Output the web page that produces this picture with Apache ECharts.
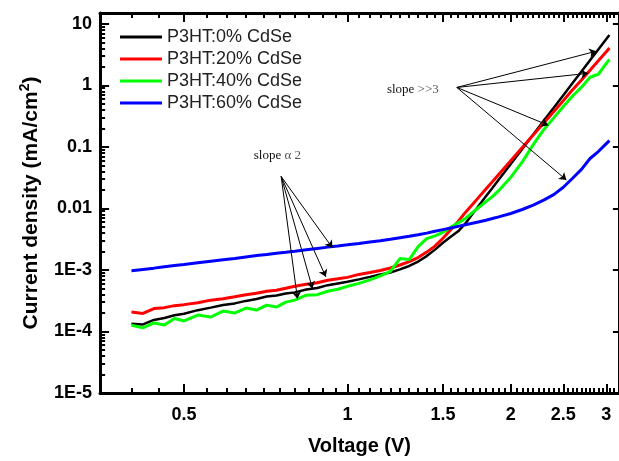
<!DOCTYPE html>
<html><head><meta charset="utf-8">
<script src="https://cdn.jsdelivr.net/npm/echarts@6/dist/echarts.min.js"></script>
<style>html,body{margin:0;padding:0;background:#fff}#c{width:619px;height:461px}</style>
</head><body><div id="c"></div>
<script>
// ---------- data ----------
const seriesNames = ['P3HT:0% CdSe', 'P3HT:20% CdSe', 'P3HT:40% CdSe', 'P3HT:60% CdSe'];
const seriesColors = ['#000000', '#ff0000', '#00ff00', '#0000ff'];

const voltage = [0.40,0.42,0.44,0.46,0.48,0.50,0.53,0.56,0.59,0.62,0.65,0.68,0.71,0.74,0.77,0.80,0.84,0.88,0.92,0.96,
  1.00,1.05,1.10,1.15,1.20,1.25,1.30,1.35,1.40,1.45,1.50,1.55,1.60,1.65,1.70,1.75,1.80,1.85,1.90,
  2.00,2.10,2.20,2.30,2.40,2.50,2.60,2.70,2.80,2.90,3.00,3.04];

const j0 = [1.34e-4,1.30e-4,1.54e-4,1.66e-4,1.84e-4,1.94e-4,2.22e-4,2.44e-4,2.70e-4,2.86e-4,3.14e-4,3.38e-4,3.70e-4,3.85e-4,4.15e-4,4.32e-4,4.80e-4,5.10e-4,5.66e-4,6.03e-4,
  6.41e-4,7.03e-4,7.72e-4,8.46e-4,9.11e-4,1.02e-3,1.16e-3,1.37e-3,1.68e-3,2.14e-3,2.77e-3,3.46e-3,4.25e-3,5.71e-3,8.09e-3,0.01134,0.01573,0.02146,0.0293,
  0.0528,0.0925,0.1583,0.265,0.431,0.693,1.089,1.681,2.556,3.827,5.65,6.60];

const j20 = [2.07e-4,1.96e-4,2.36e-4,2.44e-4,2.63e-4,2.73e-4,2.94e-4,3.23e-4,3.41e-4,3.67e-4,3.96e-4,4.18e-4,4.51e-4,4.68e-4,5.04e-4,5.42e-4,5.84e-4,6.18e-4,6.78e-4,7.17e-4,
  7.57e-4,8.46e-4,9.11e-4,9.81e-4,1.077e-3,1.204e-3,1.37e-3,1.59e-3,1.95e-3,2.44e-3,3.28e-3,4.49e-3,6.15e-3,8.62e-3,0.0116,0.01555,0.0207,0.0272,0.0357,
  0.0597,0.0974,0.1554,0.244,0.373,0.565,0.849,1.222,1.764,2.508,3.528,4.046];

const j40 = [1.263e-4,1.143e-4,1.375e-4,1.277e-4,1.626e-4,1.482e-4,1.851e-4,1.718e-4,2.146e-4,1.993e-4,2.399e-4,2.228e-4,2.68e-4,2.49e-4,3.00e-4,3.23e-4,3.88e-4,3.96e-4,4.51e-4,4.85e-4,
  5.42e-4,6.06e-4,6.90e-4,8.01e-4,9.46e-4,1.532e-3,1.476e-3,2.39e-3,3.22e-3,3.59e-3,4.09e-3,4.92e-3,5.82e-3,6.88e-3,8.59e-3,0.01053,0.01291,0.01555,0.01942,
  0.0320,0.0569,0.1089,0.190,0.296,0.454,0.670,0.935,1.355,1.515,2.278,2.642];

const j60 = [9.7e-4,1.02e-3,1.07e-3,1.13e-3,1.18e-3,1.23e-3,1.31e-3,1.39e-3,1.47e-3,1.54e-3,1.63e-3,1.71e-3,1.78e-3,1.87e-3,1.94e-3,2.02e-3,2.13e-3,2.24e-3,2.35e-3,2.45e-3,
  2.56e-3,2.70e-3,2.85e-3,2.99e-3,3.15e-3,3.34e-3,3.53e-3,3.73e-3,3.97e-3,4.25e-3,4.52e-3,4.80e-3,5.11e-3,5.42e-3,5.75e-3,6.08e-3,6.43e-3,6.85e-3,7.30e-3,
  8.28e-3,9.60e-3,0.01134,0.01366,0.01674,0.0221,0.0309,0.0431,0.0648,0.0840,0.1130,0.1263];

// ticks
const xMajorTicks = [0.5, 1, 1.5, 2, 2.5, 3];
const xTickLabels = ['0.5', '1', '1.5', '2', '2.5', '3'];
const xMinorTicks = [0.4,0.45,0.55,0.6,0.65,0.7,0.75,0.8,0.85,0.9,0.95,1.05,1.1,1.15,1.2,1.25,1.3,1.35,1.4,1.45,
  1.55,1.6,1.65,1.7,1.75,1.8,1.85,1.9,1.95,2.05,2.1,2.15,2.2,2.25,2.3,2.35,2.4,2.45,2.55,2.6,2.65,2.7,2.75,2.8,2.85,2.9,2.95,3.05,3.1];
const yMajorTicks = [1e-5, 1e-4, 1e-3, 0.01, 0.1, 1, 10];
const yTickLabels = ['1E-5', '1E-4', '1E-3', '0.01', '0.1', '1', '10'];
const yMinorTicks = [2e-5,3e-5,4e-5,5e-5,6e-5,7e-5,8e-5,9e-5, 2e-4,3e-4,4e-4,5e-4,6e-4,7e-4,8e-4,9e-4,
  2e-3,3e-3,4e-3,5e-3,6e-3,7e-3,8e-3,9e-3, 0.02,0.03,0.04,0.05,0.06,0.07,0.08,0.09,
  0.2,0.3,0.4,0.5,0.6,0.7,0.8,0.9, 2,3,4,5,6,7,8,9];

// annotations (data coordinates)
const slopeLowOrigin = [0.755, 0.033];
const slopeLowTargets = [[0.809, 3.39e-4], [0.862, 5.0e-4], [0.9125, 7.72e-4], [0.938, 2.30e-3]];
const slopeHighOrigin = [1.591, 0.925];
const slopeHighTargets = [[2.875, 3.59], [2.777, 1.572], [2.345, 0.2245], [2.533, 0.0290]];
const annotationTexts = [
  { text: 'slope α 2', at: [0.743, 0.0724] },
  { text: 'slope >>3', at: [1.32, 0.869] }
];

// ---------- chart ----------
const FONT = '"Liberation Sans", Arial, sans-serif';
const SERIF = '"Liberation Serif", "Times New Roman", serif';
const X_MIN = 0.35, X_MAX = 3.166, Y_MIN = 1e-5, Y_MAX = 15;
const GRID = { left: 100, width: 521, top: 13, bottom: 64 };
const CHART_H = 461;

function nearestLabel(v, vals, labels) {
  let best = 0, bd = Infinity;
  vals.forEach((t, i) => { const d = Math.abs(Math.log10(t) - Math.log10(v)); if (d < bd) { bd = d; best = i; } });
  return labels[best];
}

const axisLineStyle = { show: true, onZero: false, lineStyle: { color: '#000', width: 3 } };

const xAxes = [
  {
    type: 'log', min: X_MIN, max: X_MAX, position: 'bottom',
    splitLine: { show: false }, axisLine: axisLineStyle, axisTick: { show: false },
    axisLabel: { show: true, customValues: xMajorTicks, margin: 13,
      formatter: v => nearestLabel(v, xMajorTicks, xTickLabels),
      fontSize: 18, fontWeight: 'bold', color: '#000', fontFamily: FONT },
    name: 'Voltage (V)', nameLocation: 'middle', nameGap: 43,
    nameTextStyle: { fontSize: 20, fontWeight: 'bold', color: '#000', fontFamily: FONT }
  },
  {
    type: 'log', min: X_MIN, max: X_MAX, position: 'top',
    splitLine: { show: false }, axisLine: axisLineStyle, axisTick: { show: false }, axisLabel: { show: false }
  }
];

const yAxes = [
  {
    type: 'log', min: Y_MIN, max: Y_MAX, position: 'left',
    splitLine: { show: false }, axisLine: axisLineStyle, axisTick: { show: false },
    axisLabel: { show: true, customValues: yMajorTicks, margin: 8,
      formatter: v => nearestLabel(v, yMajorTicks, yTickLabels),
      fontSize: 18, fontWeight: 'bold', color: '#000', fontFamily: FONT },
    name: '{a|Current density (mA/cm}{s|2}{a|)}', nameLocation: 'middle', nameGap: 56,
    nameTextStyle: {
      rich: {
        a: { fontSize: 21, fontWeight: 'bold', color: '#000', fontFamily: FONT, lineHeight: 26 },
        s: { fontSize: 14, fontWeight: 'bold', color: '#000', fontFamily: FONT, verticalAlign: 'top', lineHeight: 14 }
      }
    }
  },
  {
    type: 'log', min: Y_MIN, max: Y_MAX, position: 'right',
    splitLine: { show: false }, axisLine: axisLineStyle, axisTick: { show: false }, axisLabel: { show: false }
  }
];

const dataSets = [j0, j20, j40, j60];
const widths = [2.5, 3, 3, 3];
const series = seriesNames.map((name, i) => ({
  name: name, type: 'line', xAxisIndex: 0, yAxisIndex: 0,
  data: voltage.map((v, k) => [v, dataSets[i][k]]),
  symbol: 'none', showSymbol: false, smooth: false,
  lineStyle: { color: seriesColors[i], width: widths[i] },
  itemStyle: { color: seriesColors[i] }
}));

const arrowData = [];
slopeLowTargets.forEach(t => arrowData.push([{ coord: slopeLowOrigin }, { coord: t }]));
slopeHighTargets.forEach(t => arrowData.push([{ coord: slopeHighOrigin }, { coord: t }]));

series[0].markLine = {
  silent: true, animation: false,
  symbol: ['none', 'arrow'], symbolSize: 7,
  label: { show: false },
  lineStyle: { color: '#000', width: 1, type: 'solid' },
  data: arrowData
};
series[0].markPoint = {
  silent: true, animation: false,
  symbol: 'circle', symbolSize: 0,
  label: {
    show: true, position: 'inside',
    formatter: p => {
      const parts = p.name.split(' ');
      return '{a|' + parts[0] + ' }{b|' + parts.slice(1).join(' ') + '}';
    },
    rich: {
      a: { color: '#111', fontSize: 13, fontFamily: SERIF },
      b: { color: '#555', fontSize: 13, fontFamily: SERIF }
    }
  },
  data: annotationTexts.map(a => ({ name: a.text, coord: a.at }))
};

// tick marks as short markLine segments in data space (log axes):
// a tick of L pixels spans a factor of 10^(L / pixels-per-decade)
const yPxPerDecade = (CHART_H - GRID.top - GRID.bottom) / Math.log10(Y_MAX / Y_MIN);
const xPxPerDecade = GRID.width / Math.log10(X_MAX / X_MIN);
const yFactor = L => Math.pow(10, L / yPxPerDecade);
const xFactor = L => Math.pow(10, L / xPxPerDecade);
const yLo = Y_MIN * 1.0005, yHi = Y_MAX / 1.0005, xLo = X_MIN * 1.0005, xHi = X_MAX / 1.0005;
const tickLines = [];
function xTick(v, L) {
  tickLines.push([{ coord: [v, yLo] }, { coord: [v, yLo * yFactor(L)] }]);
  tickLines.push([{ coord: [v, yHi] }, { coord: [v, yHi / yFactor(L)] }]);
}
xMajorTicks.forEach(v => xTick(v, 9));
xMinorTicks.forEach(v => xTick(v, 5));
yMajorTicks.forEach(v => {
  const vv = Math.min(Math.max(v, yLo), yHi);
  tickLines.push([{ coord: [xLo, vv] }, { coord: [xLo * xFactor(9), vv] }]);
  tickLines.push([{ coord: [xHi, vv] }, { coord: [xHi / xFactor(6), vv] }]);
});
yMinorTicks.forEach(v => {
  tickLines.push([{ coord: [xLo, v] }, { coord: [xLo * xFactor(5), v] }]);
});

series[3].markLine = {
  silent: true, animation: false,
  symbol: ['none', 'none'],
  label: { show: false },
  lineStyle: { color: '#000', width: 2, type: 'solid' },
  data: tickLines
};

const option = {
  animation: false,
  backgroundColor: '#fff',
  grid: { left: GRID.left, width: GRID.width, top: GRID.top, bottom: GRID.bottom },
  legend: {
    orient: 'vertical', left: 120, top: 28, padding: 0,
    icon: 'rect', itemWidth: 42, itemHeight: 3, itemGap: 4,
    textStyle: { fontSize: 18, color: '#222', fontFamily: FONT, lineHeight: 18 },
    data: seriesNames,
    selectedMode: false
  },
  xAxis: xAxes,
  yAxis: yAxes,
  series: series
};

const chart = echarts.init(document.getElementById('c'), null, { renderer: 'canvas' });
chart.setOption(option);
</script></body></html>
